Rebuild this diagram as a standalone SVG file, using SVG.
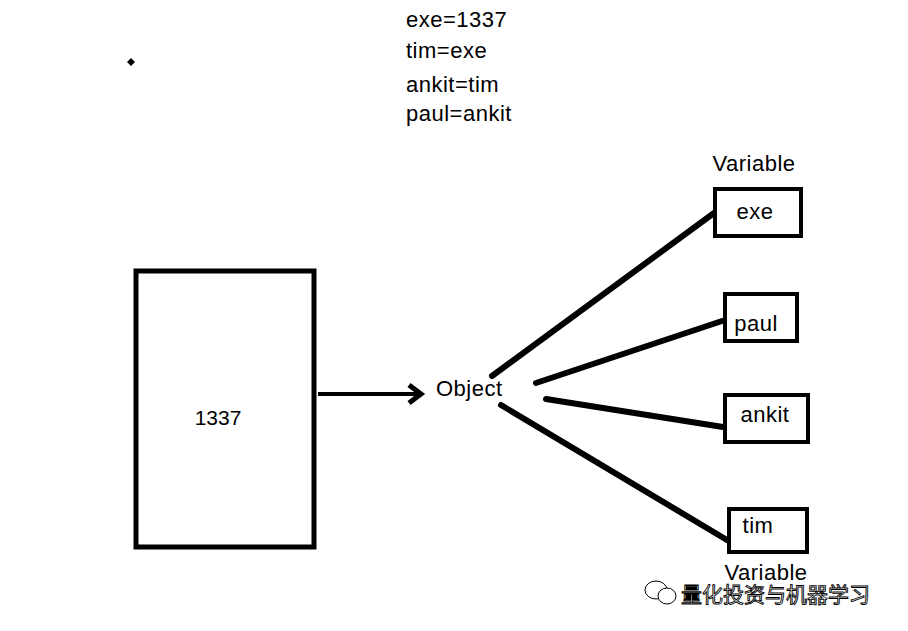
<svg xmlns="http://www.w3.org/2000/svg" width="908" height="631" viewBox="0 0 908 631">
<style>
text{font-family:"Liberation Sans",Arial,sans-serif;fill:#000}
.t{font-size:22px;letter-spacing:0.5px}
.box{fill:#fff;stroke:#000;stroke-width:4}
.con{stroke:#000;stroke-width:6;stroke-linecap:round;fill:none}
.wm{font-family:"Noto Sans CJK SC",sans-serif;font-size:21px;fill:#fff;stroke:#000;stroke-width:0.9}
</style>
<rect width="908" height="631" fill="#fff"/>
<g id="code">
<text class="t" x="406" y="27">exe=1337</text>
<text class="t" x="406" y="58">tim=exe</text>
<text class="t" x="406" y="92">ankit=tim</text>
<text class="t" x="406" y="121">paul=ankit</text>
</g>
<path d="M131 58 L135 62 L131 66 L127 62 Z" fill="#000"/>
<g id="connectors">
<line x1="318" y1="394" x2="418" y2="394" stroke="#000" stroke-width="4"/>
<path d="M409 385 L421 394 L409 403" fill="none" stroke="#000" stroke-width="5" stroke-linejoin="miter"/>
<line class="con" x1="492" y1="376" x2="714" y2="213"/>
<line class="con" x1="536" y1="383" x2="722" y2="321"/>
<line class="con" x1="546" y1="399" x2="723" y2="427"/>
<line class="con" x1="501" y1="405" x2="727" y2="540"/>
</g>
<g id="value">
<rect x="136" y="271" width="178" height="276" fill="#fff" stroke="#000" stroke-width="5"/>
<text x="218" y="425" font-size="21" text-anchor="middle">1337</text>
</g>
<g id="object">
<text class="t" x="436" y="396">Object</text>
</g>
<text class="t" x="754" y="171" text-anchor="middle">Variable</text>
<g id="exe">
<rect class="box" x="715" y="189" width="86" height="47"/>
<text class="t" x="755" y="219" text-anchor="middle">exe</text>
</g>
<g id="paul">
<rect class="box" x="725" y="294" width="72" height="47"/>
<text class="t" x="756" y="331" text-anchor="middle">paul</text>
</g>
<g id="ankit">
<rect class="box" x="725" y="395" width="83" height="47"/>
<text class="t" x="765" y="422" text-anchor="middle">ankit</text>
</g>
<g id="tim">
<rect class="box" x="729" y="509" width="78" height="43"/>
<text class="t" x="758" y="533" text-anchor="middle">tim</text>
</g>
<text class="t" x="766" y="580" text-anchor="middle">Variable</text>
<g id="watermark">
<ellipse cx="656" cy="590" rx="11" ry="9" fill="#fff" stroke="#000" stroke-width="1"/>
<ellipse cx="667" cy="596" rx="9" ry="8" fill="#fff" stroke="#000" stroke-width="1"/>
<text class="wm" x="681" y="602">量化投资与机器学习</text>
</g>
</svg>
